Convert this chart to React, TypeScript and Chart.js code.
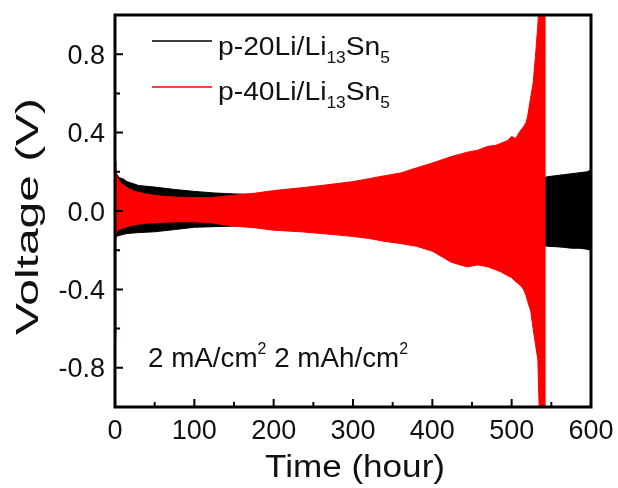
import React, { useEffect, useRef } from "react";
import { Chart, registerables } from "chart.js";

Chart.register(...registerables);

// ---- data (upper/lower envelope of the voltage oscillation) ----
const redTime = [0, 1, 3, 8, 15, 25, 40, 60, 80, 100, 120, 150, 175, 200, 234, 260, 280, 300, 320, 340, 360, 380, 400, 415, 423, 435, 444, 457, 470, 480, 486, 495, 500, 505, 511, 515, 518, 520, 524, 527, 530, 533, 536, 538, 541, 543];
const redUpper = [0.25, 0.2, 0.17, 0.14, 0.12, 0.1, 0.085, 0.075, 0.07, 0.068, 0.068, 0.08, 0.09, 0.104, 0.118, 0.13, 0.14, 0.15, 0.165, 0.18, 0.194, 0.22, 0.245, 0.265, 0.277, 0.29, 0.3, 0.31, 0.33, 0.335, 0.345, 0.36, 0.38, 0.37, 0.41, 0.43, 0.45, 0.48, 0.58, 0.65, 0.79, 0.95, 1.2, 1.2, 1.2, 1.2];
const redLower = [-0.65, -0.12, -0.1, -0.09, -0.08, -0.07, -0.062, -0.058, -0.055, -0.055, -0.06, -0.077, -0.085, -0.098, -0.106, -0.115, -0.122, -0.13, -0.14, -0.155, -0.166, -0.18, -0.205, -0.24, -0.26, -0.275, -0.285, -0.275, -0.285, -0.3, -0.31, -0.33, -0.34, -0.36, -0.38, -0.4, -0.43, -0.46, -0.51, -0.6, -0.68, -0.76, -1.2, -1.2, -1.2, -1.2];

const blackTime = [0, 0.5, 2, 5, 10, 15, 30, 50, 75, 100, 125, 150, 175, 200, 300, 400, 500, 541, 545, 555, 565, 575, 585, 595, 600];
const blackUpper = [0.2, 0.2, 0.19, 0.17, 0.165, 0.15, 0.13, 0.122, 0.11, 0.1, 0.092, 0.087, 0.085, 0.088, 0.11, 0.13, 0.15, 0.17, 0.175, 0.18, 0.185, 0.19, 0.195, 0.2, 0.21];
const blackLower = [-0.15, -0.15, -0.13, -0.125, -0.12, -0.115, -0.11, -0.106, -0.095, -0.083, -0.08, -0.077, -0.08, -0.088, -0.11, -0.13, -0.15, -0.175, -0.18, -0.182, -0.185, -0.19, -0.19, -0.195, -0.2];

const xTickValues = [0, 100, 200, 300, 400, 500, 600];
const xMinorValues = [50, 150, 250, 350, 450, 550];
const yTickValues = [-0.8, -0.4, 0.0, 0.4, 0.8];
const yMinorValues = [-0.6, -0.2, 0.2, 0.6];
const seriesNames = ["p-20Li/Li", "p-40Li/Li"];
const xTitle = "Time (hour)";
const yTitle = "Voltage (V)";

const FONT = '"Liberation Sans", Arial, sans-serif';
const TXT = "#111111";

type Seg = { t: string; size: number; dy: number };

function drawSegs(
  ctx: CanvasRenderingContext2D,
  segs: Seg[],
  x: number,
  y: number,
  targetW: number | null,
  align: "left" | "center" | "right",
  rotate = 0
) {
  ctx.save();
  let natural = 0;
  const widths: number[] = [];
  for (const s of segs) {
    ctx.font = `${s.size}px ${FONT}`;
    const w = ctx.measureText(s.t).width;
    widths.push(w);
    natural += w;
  }
  const sx = targetW ? targetW / natural : 1;
  ctx.translate(x, y);
  if (rotate) ctx.rotate(rotate);
  ctx.scale(sx, 1);
  let cx = align === "center" ? -natural / 2 : align === "right" ? -natural : 0;
  ctx.fillStyle = TXT;
  ctx.textBaseline = "alphabetic";
  ctx.textAlign = "left";
  segs.forEach((s, i) => {
    ctx.font = `${s.size}px ${FONT}`;
    ctx.fillText(s.t, cx, s.dy);
    cx += widths[i];
  });
  ctx.restore();
}

const decorPlugin = {
  id: "decor",
  afterDraw(chart: any) {
    const { ctx, chartArea: a, scales } = chart;
    const xs = scales.x;
    const ys = scales.y;
    ctx.save();
    // frame
    ctx.strokeStyle = "#000";
    ctx.lineWidth = 3;
    ctx.strokeRect(a.left, a.top, a.right - a.left, a.bottom - a.top);
    // ticks
    ctx.lineWidth = 2;
    ctx.beginPath();
    xTickValues.forEach((v) => {
      const px = xs.getPixelForValue(v);
      ctx.moveTo(px, a.bottom);
      ctx.lineTo(px, a.bottom - 8);
    });
    xMinorValues.forEach((v) => {
      const px = xs.getPixelForValue(v);
      ctx.moveTo(px, a.bottom);
      ctx.lineTo(px, a.bottom - 5);
    });
    yTickValues.forEach((v) => {
      const py = ys.getPixelForValue(v);
      ctx.moveTo(a.left, py);
      ctx.lineTo(a.left + 8, py);
    });
    yMinorValues.forEach((v) => {
      const py = ys.getPixelForValue(v);
      ctx.moveTo(a.left, py);
      ctx.lineTo(a.left + 5, py);
    });
    ctx.stroke();

    // tick labels
    xTickValues.forEach((v) => {
      drawSegs(ctx, [{ t: String(v), size: 27, dy: 0 }], xs.getPixelForValue(v), 439, null, "center");
    });
    yTickValues.forEach((v) => {
      drawSegs(ctx, [{ t: v.toFixed(1), size: 27, dy: 0 }], 105, ys.getPixelForValue(v) + 9.5, null, "right");
    });

    // axis titles
    drawSegs(ctx, [{ t: xTitle, size: 31, dy: 0 }], 355, 477, 180, "center");
    drawSegs(ctx, [{ t: yTitle, size: 32, dy: 0 }], 38, 216.5, 237, "center", -Math.PI / 2);

    // legend
    const legendColors = ["#000000", "#ff0000"];
    const legendY = [41, 87];
    const legendBase = [55, 100];
    seriesNames.forEach((name, i) => {
      ctx.strokeStyle = legendColors[i];
      ctx.lineWidth = 1.5;
      ctx.beginPath();
      ctx.moveTo(152, legendY[i]);
      ctx.lineTo(212, legendY[i]);
      ctx.stroke();
      drawSegs(
        ctx,
        [
          { t: name, size: 26, dy: 0 },
          { t: "13", size: 16, dy: 8 },
          { t: "Sn", size: 26, dy: 0 },
          { t: "5", size: 16, dy: 8 },
        ],
        218,
        legendBase[i],
        172,
        "left"
      );
    });

    // annotation
    drawSegs(
      ctx,
      [
        { t: "2 mA/cm", size: 28, dy: 0 },
        { t: "2", size: 16, dy: -13 },
        { t: " 2 mAh/cm", size: 28, dy: 0 },
        { t: "2", size: 16, dy: -13 },
      ],
      148,
      367,
      260,
      "left"
    );
    ctx.restore();
  },
};

export default function App() {
  const ref = useRef<HTMLCanvasElement | null>(null);
  useEffect(() => {
    if (!ref.current) return;
    const pts = (t: number[], v: number[]) => t.map((x, i) => ({ x, y: v[i] }));
    const chart = new Chart(ref.current, {
      type: "line",
      data: {
        datasets: [
          { data: pts(redTime, redUpper), borderColor: "#ff0000", backgroundColor: "#ff0000", borderWidth: 1, fill: "+1" },
          { data: pts(redTime, redLower), borderColor: "#ff0000", backgroundColor: "#ff0000", borderWidth: 1, fill: false },
          { data: pts(blackTime, blackUpper), borderColor: "#000000", backgroundColor: "#000000", borderWidth: 1, fill: "+1" },
          { data: pts(blackTime, blackLower), borderColor: "#000000", backgroundColor: "#000000", borderWidth: 1, fill: false },
        ],
      },
      options: {
        responsive: false,
        animation: false,
        devicePixelRatio: 1,
        layout: { padding: { left: 115, top: 15, right: 27, bottom: 81 } },
        elements: { point: { radius: 0 }, line: { tension: 0 } },
        scales: {
          x: { type: "linear", min: 0, max: 600, display: false },
          y: { type: "linear", min: -1, max: 1, display: false },
        },
        plugins: { legend: { display: false }, tooltip: { enabled: false } },
      },
      plugins: [decorPlugin],
    } as any);
    return () => chart.destroy();
  }, []);
  return (
    <div style={{ position: "absolute", left: 0, top: 0, width: 618, height: 488, background: "#fff" }}>
      <canvas ref={ref} width={618} height={488} />
    </div>
  );
}
